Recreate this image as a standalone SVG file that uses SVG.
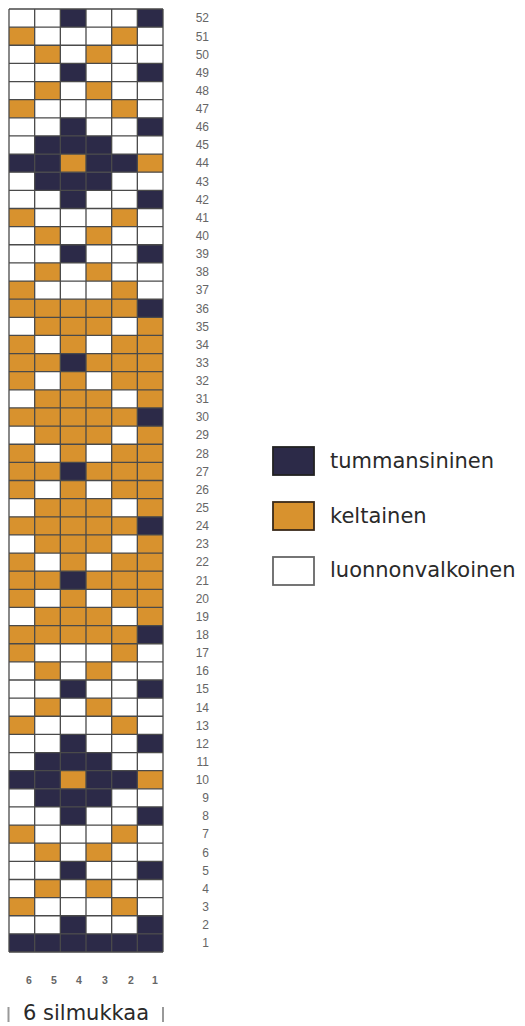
<svg xmlns="http://www.w3.org/2000/svg" width="525" height="1026" viewBox="0 0 525 1026">
<style>
.d{fill:#2c2a48}
.o{fill:#d8922e}
.w{fill:#ffffff}
.grid{fill:none;stroke:#4a4a4a;stroke-width:1.3}
.rn{font-family:"Liberation Sans",Arial,sans-serif;font-size:12px;fill:#666;text-anchor:end}
.cn{font-family:"Liberation Sans",Arial,sans-serif;font-size:10.5px;font-weight:bold;fill:#666;text-anchor:middle}
.lt{font-family:"DejaVu Sans",sans-serif;font-size:21px;fill:#2a2a2a}
.sw{stroke-width:1.8}
</style>
<rect width="525" height="1026" fill="#fff"/>
<g id="chart" transform="translate(9,9) scale(25.667,18.135)">
<rect class="w" x="0" y="0" width="6" height="52"/>
<rect class="o" x="0" y="16" width="6" height="19"/>
<!-- rows 52..37 -->
<rect class="d" x="2" y="0" width="1" height="1"/><rect class="d" x="5" y="0" width="1" height="1"/>
<rect class="o" x="0" y="1" width="1" height="1"/><rect class="o" x="4" y="1" width="1" height="1"/>
<rect class="o" x="1" y="2" width="1" height="1"/><rect class="o" x="3" y="2" width="1" height="1"/>
<rect class="d" x="2" y="3" width="1" height="1"/><rect class="d" x="5" y="3" width="1" height="1"/>
<rect class="o" x="1" y="4" width="1" height="1"/><rect class="o" x="3" y="4" width="1" height="1"/>
<rect class="o" x="0" y="5" width="1" height="1"/><rect class="o" x="4" y="5" width="1" height="1"/>
<rect class="d" x="2" y="6" width="1" height="1"/><rect class="d" x="5" y="6" width="1" height="1"/>
<rect class="d" x="1" y="7" width="3" height="1"/>
<rect class="d" x="0" y="8" width="2" height="1"/><rect class="o" x="2" y="8" width="1" height="1"/><rect class="d" x="3" y="8" width="2" height="1"/><rect class="o" x="5" y="8" width="1" height="1"/>
<rect class="d" x="1" y="9" width="3" height="1"/>
<rect class="d" x="2" y="10" width="1" height="1"/><rect class="d" x="5" y="10" width="1" height="1"/>
<rect class="o" x="0" y="11" width="1" height="1"/><rect class="o" x="4" y="11" width="1" height="1"/>
<rect class="o" x="1" y="12" width="1" height="1"/><rect class="o" x="3" y="12" width="1" height="1"/>
<rect class="d" x="2" y="13" width="1" height="1"/><rect class="d" x="5" y="13" width="1" height="1"/>
<rect class="o" x="1" y="14" width="1" height="1"/><rect class="o" x="3" y="14" width="1" height="1"/>
<rect class="o" x="0" y="15" width="1" height="1"/><rect class="o" x="4" y="15" width="1" height="1"/>
<!-- orange block rows 36..18 -->
<rect class="d" x="5" y="16" width="1" height="1"/>
<rect class="w" x="0" y="17" width="1" height="1"/><rect class="w" x="4" y="17" width="1" height="1"/>
<rect class="w" x="1" y="18" width="1" height="1"/><rect class="w" x="3" y="18" width="1" height="1"/>
<rect class="d" x="2" y="19" width="1" height="1"/>
<rect class="w" x="1" y="20" width="1" height="1"/><rect class="w" x="3" y="20" width="1" height="1"/>
<rect class="w" x="0" y="21" width="1" height="1"/><rect class="w" x="4" y="21" width="1" height="1"/>
<rect class="d" x="5" y="22" width="1" height="1"/>
<rect class="w" x="0" y="23" width="1" height="1"/><rect class="w" x="4" y="23" width="1" height="1"/>
<rect class="w" x="1" y="24" width="1" height="1"/><rect class="w" x="3" y="24" width="1" height="1"/>
<rect class="d" x="2" y="25" width="1" height="1"/>
<rect class="w" x="1" y="26" width="1" height="1"/><rect class="w" x="3" y="26" width="1" height="1"/>
<rect class="w" x="0" y="27" width="1" height="1"/><rect class="w" x="4" y="27" width="1" height="1"/>
<rect class="d" x="5" y="28" width="1" height="1"/>
<rect class="w" x="0" y="29" width="1" height="1"/><rect class="w" x="4" y="29" width="1" height="1"/>
<rect class="w" x="1" y="30" width="1" height="1"/><rect class="w" x="3" y="30" width="1" height="1"/>
<rect class="d" x="2" y="31" width="1" height="1"/>
<rect class="w" x="1" y="32" width="1" height="1"/><rect class="w" x="3" y="32" width="1" height="1"/>
<rect class="w" x="0" y="33" width="1" height="1"/><rect class="w" x="4" y="33" width="1" height="1"/>
<rect class="d" x="5" y="34" width="1" height="1"/>
<!-- rows 17..1 -->
<rect class="o" x="0" y="35" width="1" height="1"/><rect class="o" x="4" y="35" width="1" height="1"/>
<rect class="o" x="1" y="36" width="1" height="1"/><rect class="o" x="3" y="36" width="1" height="1"/>
<rect class="d" x="2" y="37" width="1" height="1"/><rect class="d" x="5" y="37" width="1" height="1"/>
<rect class="o" x="1" y="38" width="1" height="1"/><rect class="o" x="3" y="38" width="1" height="1"/>
<rect class="o" x="0" y="39" width="1" height="1"/><rect class="o" x="4" y="39" width="1" height="1"/>
<rect class="d" x="2" y="40" width="1" height="1"/><rect class="d" x="5" y="40" width="1" height="1"/>
<rect class="d" x="1" y="41" width="3" height="1"/>
<rect class="d" x="0" y="42" width="2" height="1"/><rect class="o" x="2" y="42" width="1" height="1"/><rect class="d" x="3" y="42" width="2" height="1"/><rect class="o" x="5" y="42" width="1" height="1"/>
<rect class="d" x="1" y="43" width="3" height="1"/>
<rect class="d" x="2" y="44" width="1" height="1"/><rect class="d" x="5" y="44" width="1" height="1"/>
<rect class="o" x="0" y="45" width="1" height="1"/><rect class="o" x="4" y="45" width="1" height="1"/>
<rect class="o" x="1" y="46" width="1" height="1"/><rect class="o" x="3" y="46" width="1" height="1"/>
<rect class="d" x="2" y="47" width="1" height="1"/><rect class="d" x="5" y="47" width="1" height="1"/>
<rect class="o" x="1" y="48" width="1" height="1"/><rect class="o" x="3" y="48" width="1" height="1"/>
<rect class="o" x="0" y="49" width="1" height="1"/><rect class="o" x="4" y="49" width="1" height="1"/>
<rect class="d" x="2" y="50" width="1" height="1"/><rect class="d" x="5" y="50" width="1" height="1"/>
<rect class="d" x="0" y="51" width="6" height="1"/>
<path class="grid" vector-effect="non-scaling-stroke" d="M0 0V52M1 0V52M2 0V52M3 0V52M4 0V52M5 0V52M6 0V52M0 0H6M0 1H6M0 2H6M0 3H6M0 4H6M0 5H6M0 6H6M0 7H6M0 8H6M0 9H6M0 10H6M0 11H6M0 12H6M0 13H6M0 14H6M0 15H6M0 16H6M0 17H6M0 18H6M0 19H6M0 20H6M0 21H6M0 22H6M0 23H6M0 24H6M0 25H6M0 26H6M0 27H6M0 28H6M0 29H6M0 30H6M0 31H6M0 32H6M0 33H6M0 34H6M0 35H6M0 36H6M0 37H6M0 38H6M0 39H6M0 40H6M0 41H6M0 42H6M0 43H6M0 44H6M0 45H6M0 46H6M0 47H6M0 48H6M0 49H6M0 50H6M0 51H6M0 52H6"/>
</g>
<g id="row-numbers">
<text class="rn" x="209" y="22.37">52</text>
<text class="rn" x="209" y="40.50">51</text>
<text class="rn" x="209" y="58.64">50</text>
<text class="rn" x="209" y="76.77">49</text>
<text class="rn" x="209" y="94.91">48</text>
<text class="rn" x="209" y="113.04">47</text>
<text class="rn" x="209" y="131.18">46</text>
<text class="rn" x="209" y="149.31">45</text>
<text class="rn" x="209" y="167.45">44</text>
<text class="rn" x="209" y="185.58">43</text>
<text class="rn" x="209" y="203.72">42</text>
<text class="rn" x="209" y="221.85">41</text>
<text class="rn" x="209" y="239.99">40</text>
<text class="rn" x="209" y="258.12">39</text>
<text class="rn" x="209" y="276.26">38</text>
<text class="rn" x="209" y="294.39">37</text>
<text class="rn" x="209" y="312.53">36</text>
<text class="rn" x="209" y="330.66">35</text>
<text class="rn" x="209" y="348.80">34</text>
<text class="rn" x="209" y="366.93">33</text>
<text class="rn" x="209" y="385.07">32</text>
<text class="rn" x="209" y="403.20">31</text>
<text class="rn" x="209" y="421.34">30</text>
<text class="rn" x="209" y="439.47">29</text>
<text class="rn" x="209" y="457.61">28</text>
<text class="rn" x="209" y="475.74">27</text>
<text class="rn" x="209" y="493.88">26</text>
<text class="rn" x="209" y="512.01">25</text>
<text class="rn" x="209" y="530.15">24</text>
<text class="rn" x="209" y="548.28">23</text>
<text class="rn" x="209" y="566.42">22</text>
<text class="rn" x="209" y="584.55">21</text>
<text class="rn" x="209" y="602.69">20</text>
<text class="rn" x="209" y="620.82">19</text>
<text class="rn" x="209" y="638.96">18</text>
<text class="rn" x="209" y="657.09">17</text>
<text class="rn" x="209" y="675.23">16</text>
<text class="rn" x="209" y="693.36">15</text>
<text class="rn" x="209" y="711.50">14</text>
<text class="rn" x="209" y="729.63">13</text>
<text class="rn" x="209" y="747.77">12</text>
<text class="rn" x="209" y="765.90">11</text>
<text class="rn" x="209" y="784.04">10</text>
<text class="rn" x="209" y="802.18">9</text>
<text class="rn" x="209" y="820.31">8</text>
<text class="rn" x="209" y="838.45">7</text>
<text class="rn" x="209" y="856.58">6</text>
<text class="rn" x="209" y="874.72">5</text>
<text class="rn" x="209" y="892.85">4</text>
<text class="rn" x="209" y="910.99">3</text>
<text class="rn" x="209" y="929.12">2</text>
<text class="rn" x="209" y="947.26">1</text>
</g>
<g id="column-numbers">
<text class="cn" x="29" y="984">6</text>
<text class="cn" x="54" y="984">5</text>
<text class="cn" x="79" y="984">4</text>
<text class="cn" x="105" y="984">3</text>
<text class="cn" x="131" y="984">2</text>
<text class="cn" x="155" y="984">1</text>
</g>
<g id="stitch-count">
<line x1="8.5" y1="1007" x2="8.5" y2="1022" stroke="#999" stroke-width="2"/>
<line x1="163" y1="1007" x2="163" y2="1022" stroke="#999" stroke-width="2"/>
<text class="lt" x="23" y="1020">6 silmukkaa</text>
</g>
<g id="legend-dark">
<rect class="d sw" x="273" y="447" width="41" height="28" stroke="#222"/>
<text class="lt" x="330" y="468">tummansininen</text>
</g>
<g id="legend-yellow">
<rect class="o sw" x="273" y="502" width="41" height="28" stroke="#3a2a1a"/>
<text class="lt" x="330" y="523">keltainen</text>
</g>
<g id="legend-white">
<rect class="w sw" x="273" y="557" width="41" height="28" stroke="#666"/>
<text class="lt" x="330" y="577">luonnonvalkoinen</text>
</g>
</svg>
